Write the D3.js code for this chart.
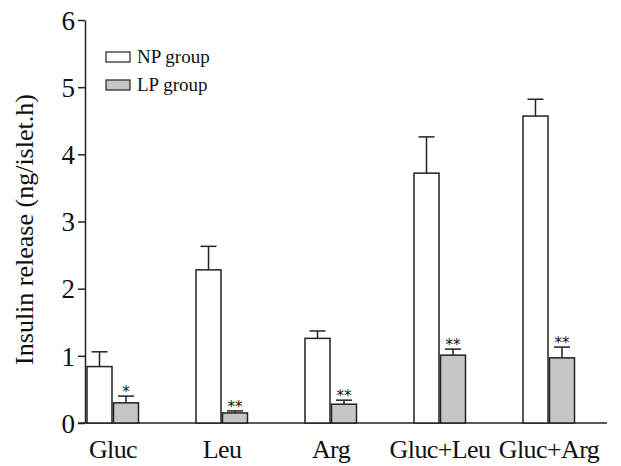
<!DOCTYPE html>
<html lang="en">
<head>
    <meta charset="UTF-8">
    <title>Insulin release</title>
    <script src="https://d3js.org/d3.v7.min.js"></script>
    <style>
        body { margin: 0; background: #fff; }
        svg { font-family: "Liberation Serif", "Times New Roman", serif; }
    </style>
</head>
<body>
    <svg id="chart" width="621" height="466"></svg>

    <script>
        const categories = ["Gluc", "Leu", "Arg", "Gluc+Leu", "Gluc+Arg"];
        const groups = ["NP group", "LP group"];
        const npMean = [0.84, 2.28, 1.26, 3.72, 4.57];
        const npErr = [0.22, 0.35, 0.11, 0.54, 0.25];
        const lpMean = [0.30, 0.15, 0.28, 1.01, 0.97];
        const lpErr = [0.10, 0.03, 0.06, 0.09, 0.16];
        const lpStars = ["*", "**", "**", "**", "**"];
        const yTicks = [0, 1, 2, 3, 4, 5, 6];

        const svg = d3.select("#chart");
        const plotLeft = 85, plotRight = 607, plotTop = 20, plotBottom = 423;

        const x = d3.scaleBand().domain(categories).range([plotLeft + 2, plotLeft + 2 + 109 * 5]).paddingInner(0).paddingOuter(0);
        const y = d3.scaleLinear().domain([0, 6]).range([plotBottom, plotTop]);
        const barW = 25;

        // y axis
        const yAxis = svg.append("g")
            .attr("transform", `translate(${plotLeft},0)`)
            .call(d3.axisLeft(y).tickValues(yTicks).tickFormat(d3.format("d")).tickSize(7).tickSizeOuter(0));
        yAxis.select(".domain").attr("stroke", "#222").attr("stroke-width", 1.5);
        yAxis.selectAll(".tick line").attr("stroke", "#222").attr("stroke-width", 1.5);
        yAxis.selectAll(".tick text")
            .attr("font-size", 27)
            .attr("font-family", "Liberation Serif, serif")
            .attr("fill", "#111")
            .attr("x", -10)
            .attr("dy", "0.34em");

        // x baseline
        svg.append("line")
            .attr("x1", plotLeft - 7).attr("x2", plotRight)
            .attr("y1", y(0)).attr("y2", y(0))
            .attr("stroke", "#222").attr("stroke-width", 1.5);

        const rows = categories.map((c, i) => ({
            cat: c,
            bars: [
                { g: 0, v: npMean[i], e: npErr[i], star: "" },
                { g: 1, v: lpMean[i], e: lpErr[i], star: lpStars[i] }
            ]
        }));

        const grp = svg.selectAll("g.cat")
            .data(rows)
            .enter().append("g")
            .attr("class", "cat")
            .attr("transform", d => `translate(${x(d.cat)},0)`);

        const bar = grp.selectAll("g.bar")
            .data(d => d.bars)
            .enter().append("g")
            .attr("class", "bar");

        // error bars (upper only)
        bar.append("line")
            .attr("x1", d => d.g * (barW + 1.5) + barW / 2)
            .attr("x2", d => d.g * (barW + 1.5) + barW / 2)
            .attr("y1", d => y(d.v))
            .attr("y2", d => y(d.v + d.e))
            .attr("stroke", "#222").attr("stroke-width", 1.5);
        bar.append("line")
            .attr("x1", d => d.g * (barW + 1.5) + barW / 2 - 8)
            .attr("x2", d => d.g * (barW + 1.5) + barW / 2 + 8)
            .attr("y1", d => y(d.v + d.e))
            .attr("y2", d => y(d.v + d.e))
            .attr("stroke", "#222").attr("stroke-width", 1.5);

        bar.append("rect")
            .attr("x", d => d.g * (barW + 1.5))
            .attr("y", d => y(d.v))
            .attr("width", barW)
            .attr("height", d => y(0) - y(d.v))
            .attr("fill", d => d.g ? "#c6c6c6" : "#fff")
            .attr("stroke", "#222").attr("stroke-width", 1.5);

        bar.append("text")
            .attr("x", d => d.g * (barW + 1.5) + barW / 2)
            .attr("y", d => y(d.v + d.e) + 1)
            .attr("text-anchor", "middle")
            .attr("font-size", 15)
            .attr("font-family", "DejaVu Sans, sans-serif")
            .attr("fill", "#111")
            .text(d => d.star);

        // category labels
        svg.selectAll("text.cat-label")
            .data(categories)
            .enter().append("text")
            .attr("class", "cat-label")
            .attr("x", d => x(d) + barW + 1)
            .attr("y", 458)
            .attr("text-anchor", "middle")
            .attr("font-size", 26)
            .attr("letter-spacing", -0.6)
            .attr("fill", "#111")
            .text(d => d);

        // y title
        svg.append("text")
            .attr("transform", `translate(33,${(plotTop + plotBottom) / 2 + 8}) rotate(-90)`)
            .attr("text-anchor", "middle")
            .attr("font-size", 26)
            .attr("fill", "#111")
            .text("Insulin release (ng/islet.h)");

        // legend
        const legend = svg.selectAll("g.legend")
            .data(groups)
            .enter().append("g")
            .attr("class", "legend")
            .attr("transform", (d, i) => `translate(106,${52 + i * 28})`);
        legend.append("rect")
            .attr("width", 24).attr("height", 10)
            .attr("fill", (d, i) => i ? "#c6c6c6" : "#fff")
            .attr("stroke", "#222").attr("stroke-width", 1.2);
        legend.append("text")
            .attr("x", 31).attr("y", 11)
            .attr("font-size", 19)
            .attr("fill", "#111")
            .text(d => d);
    </script>
</body>
</html>
